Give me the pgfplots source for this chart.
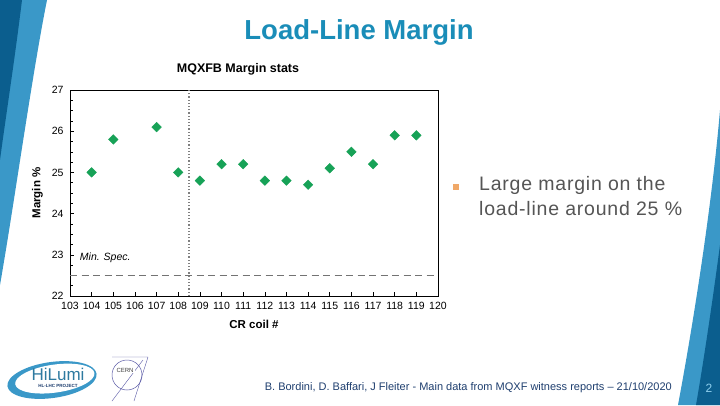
\documentclass[border=0pt]{standalone}
\usepackage{pgfplots}
\pgfplotsset{compat=1.18}
\usepackage{fontspec}
\setmainfont{Liberation Sans}
\definecolor{swdark}{HTML}{0B5E8E}
\definecolor{swlight}{HTML}{3A98C8}
\definecolor{titleblue}{HTML}{1A8DB8}
\definecolor{mgreen}{HTML}{17A257}
\definecolor{bulletor}{HTML}{F0A868}
\definecolor{bodygray}{HTML}{555555}
\definecolor{footblue}{HTML}{1F3F6F}
\definecolor{pagenum}{HTML}{8FD0EF}
\begin{document}
\begin{tikzpicture}[x=1pt,y=1pt]
\path[use as bounding box, fill=white] (0,0) rectangle (720,405);
% left swoosh
\fill[swlight] (0,405) -- (47,405) .. controls (32,330) and (14,200) .. (0,120) -- cycle;
\fill[swdark] (0,405) -- (22,405) .. controls (14,340) and (6,290) .. (0,245) -- cycle;
% right swoosh
\fill[swlight] (720,295) .. controls (712,200) and (693,80) .. (678,0) -- (720,0) -- cycle;
\fill[swdark] (720,160) .. controls (712,100) and (703,40) .. (696,0) -- (720,0) -- cycle;
% title
\node[font=\bfseries\fontsize{27.5}{28}\selectfont, text=titleblue] at (359,373) {Load-Line Margin};
% bullet
\fill[bulletor] (453,215) rectangle (459,221);
\node[anchor=north west, align=left, text=bodygray, font=\fontsize{19.5}{25}\selectfont\addfontfeatures{LetterSpace=4}, inner sep=0pt] at (479,229) {Large margin on the\\load-line around 25 \%};
% footer
\node[anchor=east, text=footblue, font=\fontsize{11}{11}\selectfont, inner sep=0pt] at (672,17) {B. Bordini, D. Baffari, J Fleiter - Main data from MQXF witness reports -- 21/10/2020};
\node[text=pagenum, font=\fontsize{12}{12}\selectfont, inner sep=0pt] at (709,17) {2};
% HiLumi logo
\begin{scope}[rotate around={8:(52,25)}]
\fill[swlight] (52,25) ellipse (45 and 18);
\fill[white] (55,26) ellipse (40 and 14);
\end{scope}
\node[text=swlight!80!black, font=\fontsize{17}{17}\selectfont, inner sep=0pt] at (58,31) {HiLumi};
\node[text=footblue, font=\bfseries\fontsize{4.5}{5}\selectfont, inner sep=0pt] at (58,19) {HL-LHC PROJECT};
% CERN logo
\draw[gray!70!blue, line width=0.5pt] (127,30) circle (15);
\draw[gray!70!blue, line width=0.4pt] (112,48) -- (148,48) (148,48) -- (134,4) (112,4) -- (143,45);
\node[text=gray!50!black, font=\fontsize{6}{6}\selectfont, inner sep=1pt, fill=white] at (125,35) {CERN};
% chart title
\node[font=\bfseries\fontsize{12.5}{13}\selectfont] at (238,336) {MQXFB Margin stats};
% chart
\begin{axis}[
  at={(70pt,109pt)}, anchor=south west,
  width=368pt, height=206pt, scale only axis,
  xmin=103, xmax=120, ymin=22, ymax=27,
  xtick={103,...,120}, ytick={22,...,27},
  minor y tick num=3,
  tick align=inside,
  major tick length=4pt, minor tick length=2.5pt,
  xtick pos=bottom, ytick pos=left,
  axis line style={black, line width=0.6pt},
  every tick/.style={black, line width=0.6pt},
  /pgf/number format/assume math mode=true,
  ticklabel style={font=\fontsize{10.5}{11}\selectfont},
  xticklabel style={inner xsep=0pt, yshift=-3pt},
  yticklabel style={xshift=-3pt},
  xlabel={\textbf{CR coil \#}},
  ylabel={\textbf{Margin \%}},
  label style={font=\fontsize{11.5}{12}\selectfont},
  xlabel style={yshift=-3pt},
  ylabel style={yshift=2pt},
  clip=false,
]
\addplot[gray!90!black, line width=1.4pt, dash pattern=on 7pt off 4.5pt] coordinates {(103,22.5) (120,22.5)};
\addplot[gray, line width=1.2pt, dotted] coordinates {(108.5,22) (108.5,27)};
\addplot[only marks, mark=square*, mark size=3.4pt, mark options={rotate=45, fill=mgreen, draw=mgreen}] coordinates {
(104,25.0) (105,25.8) (107,26.1) (108,25.0) (109,24.8) (110,25.2) (111,25.2) (112,24.8)
(113,24.8) (114,24.7) (115,25.1) (116,25.5) (117,25.2) (118,25.9) (119,25.9)};
\node[anchor=west, font=\itshape\fontsize{10.5}{11}\selectfont, inner sep=0pt] at (axis cs:103.45,22.93) {Min. Spec.};
\end{axis}
\end{tikzpicture}
\end{document}
